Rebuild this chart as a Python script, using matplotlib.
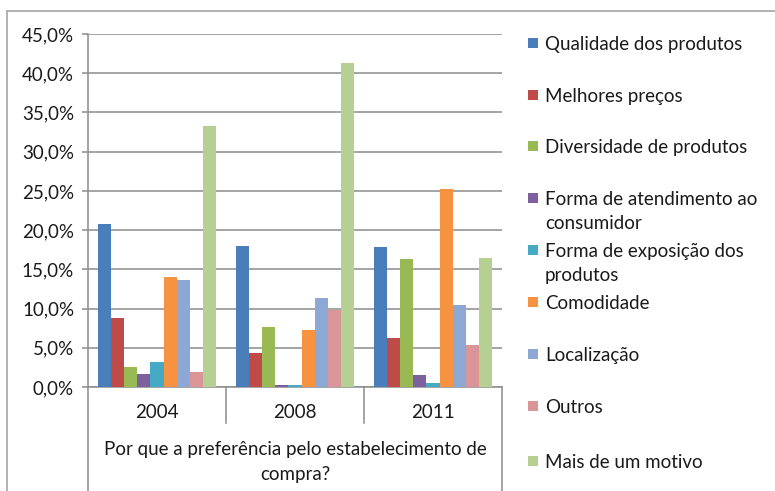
import matplotlib
matplotlib.use("Agg")
import matplotlib.pyplot as plt
from matplotlib.patches import Rectangle
from matplotlib.lines import Line2D
from matplotlib.ticker import FuncFormatter

plt.rcParams['font.family'] = ['Lato', 'DejaVu Sans']

years = ["2004", "2008", "2011"]
series_names = [
    "Qualidade dos produtos",
    "Melhores preços",
    "Diversidade de produtos",
    "Forma de atendimento ao\nconsumidor",
    "Forma de exposição dos\nprodutos",
    "Comodidade",
    "Localização",
    "Outros",
    "Mais de um motivo",
]
qualidade = [20.8, 18.0, 17.8]
melhores_precos = [8.8, 4.3, 6.3]
diversidade = [2.6, 7.7, 16.3]
atendimento = [1.6, 0.2, 1.5]
exposicao = [3.2, 0.2, 0.5]
comodidade = [14.0, 7.3, 25.3]
localizacao = [13.7, 11.3, 10.4]
outros = [1.9, 9.8, 5.4]
mais_de_um = [33.3, 41.3, 16.4]
series_values = [qualidade, melhores_precos, diversidade, atendimento, exposicao,
                 comodidade, localizacao, outros, mais_de_um]
yticks = [0, 5, 10, 15, 20, 25, 30, 35, 40, 45]
axis_title = "Por que a preferência pelo estabelecimento de\ncompra?"

colors = ['#4A7EBB', '#BE4B48', '#98B954', '#7D60A0', '#46AAC5',
          '#F69240', '#8EA8D6', '#D99597', '#B6D094']

W, H = 775, 491
fig = plt.figure(figsize=(W / 100, H / 100), dpi=100)
fig.patch.set_facecolor('white')

# outer chart border (left/top visible)
fig.add_artist(Line2D([7 / W, 7 / W], [0, 1 - 11 / H], transform=fig.transFigure,
                      color='#A6A6A6', lw=1.2))
fig.add_artist(Line2D([7 / W, 1], [1 - 11 / H, 1 - 11 / H], transform=fig.transFigure,
                      color='#A6A6A6', lw=1.2))

ax_l, ax_r, ax_t, ax_b = 88, 502, 34, 387
ax = fig.add_axes([ax_l / W, 1 - ax_b / H, (ax_r - ax_l) / W, (ax_b - ax_t) / H])

bw = 0.0953
n = len(series_values)
for j, (vals, c) in enumerate(zip(series_values, colors)):
    xs = [i + (j - (n - 1) / 2) * bw for i in range(len(years))]
    ax.bar(xs, vals, width=bw, color=c, edgecolor='none', zorder=3)

ax.set_xlim(-0.5, len(years) - 0.5)
ax.set_ylim(0, 45)
ax.set_yticks(yticks)
ax.yaxis.set_major_formatter(FuncFormatter(lambda v, p: f"{v:.1f}%".replace('.', ',')))
ax.grid(axis='y', color='#8C8C8C', lw=1.1, zorder=0)
ax.set_axisbelow(True)
for s in ['top', 'right']:
    ax.spines[s].set_visible(False)
ax.spines['left'].set_color('#8C8C8C')
ax.spines['bottom'].set_color('#8C8C8C')
ax.spines['left'].set_linewidth(1.1)
ax.spines['bottom'].set_linewidth(1.1)
ax.tick_params(axis='y', length=4, color='#8C8C8C', width=1.1, labelsize=13.5,
               labelcolor='#1A1A1A', pad=6)
ax.tick_params(axis='x', length=0)
ax.set_xticks([])

# category labels & separators
trans = ax.get_xaxis_transform()
hpx = ax_b - ax_t
for i, y in enumerate(years):
    ax.text(i, -25 / hpx, y, transform=trans, ha='center', va='center',
            fontsize=13.5, color='#1A1A1A')
for k in range(len(years) + 1):
    xk = k - 0.5
    bottom = -36 / hpx if 0 < k < len(years) else -(H - ax_b + 2) / hpx
    ax.plot([xk, xk], [0, bottom], transform=trans, color='#8C8C8C', lw=1.1,
            clip_on=False)
ax.text((len(years) - 1) / 2, -75 / hpx, axis_title, transform=trans, ha='center',
        va='center', fontsize=13.5, color='#1A1A1A', linespacing=1.55)

# legend
ys = [43, 95, 146, 198, 250, 302, 354, 406, 461]
for name, c, yc in zip(series_names, colors, ys):
    fig.add_artist(Rectangle((528 / W, 1 - (yc + 5) / H), 10 / W, 10 / H,
                             transform=fig.transFigure, facecolor=c, edgecolor='none'))
    fig.text(545 / W, 1 - (yc - 7) / H, name, ha='left', va='top', fontsize=13.5,
             color='#1A1A1A', linespacing=1.5)

fig.savefig("out.png", dpi=100)
